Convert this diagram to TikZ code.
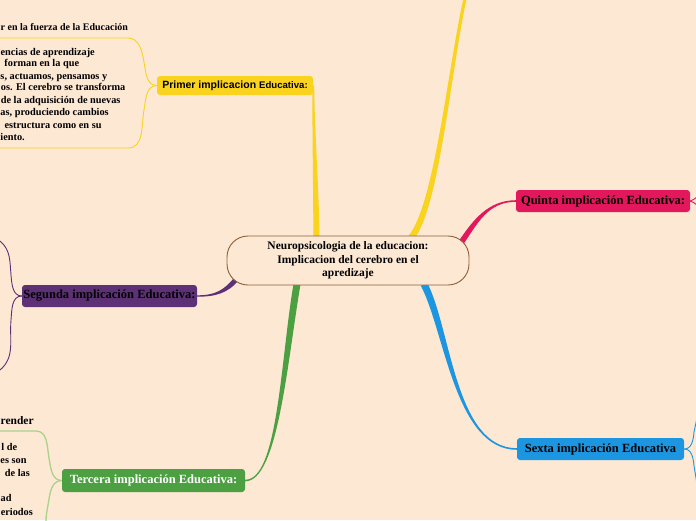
\documentclass[tikz,border=0pt]{standalone}
\usepackage{fontspec}
\setmainfont{Liberation Serif}
\newfontfamily\sansf{Liberation Sans}
\usetikzlibrary{calc}
\definecolor{bg}{RGB}{253,232,211}
\definecolor{cyel}{RGB}{249,211,29}
\definecolor{cpink}{RGB}{227,24,92}
\definecolor{cpurp}{RGB}{94,49,119}
\definecolor{cgreen}{RGB}{76,160,66}
\definecolor{clgreen}{RGB}{170,210,140}
\definecolor{cblue}{RGB}{28,150,225}
\definecolor{cbrown}{RGB}{140,95,55}
% tapered branch: colour, P0, C1, C2, P3, half width at P0, half width at P3
\newcommand\taperbranch[7]{%
  \path #2 coordinate (tpA) #3 coordinate (tpB) #4 coordinate (tpC) #5 coordinate (tpD);
  \path ($(tpA)!#6!90:(tpB)$) coordinate (tpA1) ($(tpA)!#6!-90:(tpB)$) coordinate (tpA2)
        ($(tpD)!#7!-90:(tpC)$) coordinate (tpD1) ($(tpD)!#7!90:(tpC)$) coordinate (tpD2);
  \fill[#1] (tpA1) .. controls ($(tpB)+(tpA1)-(tpA)$) and ($(tpC)+(tpD1)-(tpD)$) .. (tpD1)
     -- (tpD2) .. controls ($(tpC)+(tpD2)-(tpD)$) and ($(tpB)+(tpA2)-(tpA)$) .. (tpA2) -- cycle;
}
\tikzset{
  box/.style={rounded corners=3pt, inner sep=0pt, font=\fontsize{12.5}{14}\selectfont\bfseries, text=black},
  ptext/.style={font=\fontsize{10.3}{12}\selectfont\bfseries, inner sep=0pt, anchor=base east, text=black},
  ptextw/.style={ptext, anchor=base west},
  fork/.style={line width=0.9pt},
}
\begin{document}
\begin{tikzpicture}[x=1pt,y=-1pt]
\fill[bg] (0,0) rectangle (696,520);
\useasboundingbox (0,0) rectangle (696,520);

% central node placeholder for anchors
\path (348,260.5) node[minimum width=242pt, minimum height=49pt, inner sep=0pt] (c0) {};

\coordinate (cPrim) at ($(c0.north)+(-31.5,2)$);
\coordinate (cCuar) at ($(c0.north)+(63,2)$);
\coordinate (cQuin) at ($(c0.north)+(113,7)$);
\coordinate (cSext) at ($(c0.south)+(76,-1)$);
\coordinate (cTerc) at ($(c0.south)+(-51,-1)$);
\coordinate (cSeg)  at ($(c0.south)+(-111,-7)$);
\coordinate (cuartaEnd) at (467,-10);

\path (235,85.5) node[minimum width=156pt, minimum height=19pt] (p) {};
\path (109.5,296) node[minimum width=175pt, minimum height=22pt] (s) {};
\path (153.5,480.5) node[minimum width=183pt, minimum height=23pt] (t) {};
\path (603,201) node[minimum width=174pt, minimum height=22pt] (q) {};
\path (600.5,449) node[minimum width=167pt, minimum height=22pt] (x) {};

% main tapered branches
\taperbranch{cyel}{(cPrim)}{(316,190)}{(313.5,130)}{(p.east)}{3pt}{1pt}
\taperbranch{cyel}{(cCuar)}{(438,205)}{(450,60)}{(cuartaEnd)}{3.2pt}{1.6pt}
\taperbranch{cpink}{(cQuin)}{(475,222)}{(488,201)}{(q.west)}{2.8pt}{0.8pt}
\taperbranch{cblue}{(cSext)}{(448,330)}{(455,449)}{(x.west)}{3.5pt}{0.8pt}
\taperbranch{cgreen}{(cTerc)}{(284,360)}{(278,481)}{(t.east)}{3.5pt}{0.8pt}
\taperbranch{cpurp}{(cSeg)}{(226,292)}{(215,296)}{(s.east)}{2.5pt}{0.7pt}

% forks
\draw[fork, cyel] (p.west) to[out=180,in=-80] (144,62) to[out=100,in=0] (128,38) -- (0,38);
\draw[fork, cyel] (p.west) to[out=180,in=80] (144,110) to[out=-100,in=0] (128,148) -- (0,148);
\draw[fork, cpurp] (s.west) to[out=180,in=-85] (11,275) to[out=95,in=-40] (0,241);
\draw[fork, cpurp] (s.west) to[out=180,in=85] (11,320) to[out=-95,in=40] (0,370);
\draw[line width=1.3pt, clgreen] (t.west) to[out=180,in=-80] (49,458) to[out=100,in=0] (36,431) -- (0,431);
\draw[line width=1.3pt, clgreen] (t.west) to[out=180,in=80] (48,505) to[out=-100,in=90] (46,522);
\draw[fork, cpink] (q.east) to[out=0,in=200] (697,197);
\draw[fork, cpink] (q.east) to[out=0,in=160] (697,205);
\draw[fork, cblue] (x.east) to[out=0,in=-95] (694,432) -- (697,418);
\draw[fork, cblue] (x.east) to[out=0,in=95] (694,466) -- (697,484);

% central node
\node[draw=cbrown, line width=0.9pt, fill=bg, rounded corners=21pt, minimum width=242pt,
      minimum height=49pt, inner sep=0pt, align=center,
      font=\fontsize{11.5}{13.3}\selectfont\bfseries] (c) at (348,260.5)
      {Neuropsicologia de la educacion:\\Implicacion del cerebro en el\\apredizaje};

% boxes
\node[box, fill=cyel, minimum width=156pt, minimum height=19pt,
      font=\sansf\bfseries\fontsize{10.5}{12}\selectfont] (p1) at (p)
      {Primer implicacion {\fontsize{9.6}{11}\selectfont Educativa:}};
\node[box, fill=cpurp, minimum width=175pt, minimum height=22pt] (s1) at (s) {Segunda implicación Educativa:};
\node[box, fill=cgreen, minimum width=183pt, minimum height=23pt, text=white] (t1) at (t) {Tercera implicación Educativa:};
\node[box, fill=cpink, minimum width=174pt, minimum height=22pt] (q1) at (q) {Quinta implicación Educativa:};
\node[box, fill=cblue, minimum width=167pt, minimum height=22pt] (x1) at (x) {Sexta implicación Educativa};

% left texts of Primer
\node[ptextw, font=\fontsize{10}{12}\selectfont\bfseries] (l0) at (0.5,30.6) {r en la fuerza de la Educación};
\node[ptext] (l1) at (95,55.6) {encias de aprendizaje};
\node[ptext] (l2) at (79.3,66.8) {forman en la que};
\node[ptextw] (l3) at (0.3,79) {s, actuamos, pensamos y};
\node[ptext] (l4) at (125.5,90.8) {os. El cerebro se transforma};
\node[ptext] (l5) at (120.7,103.3) {de la adquisición de nuevas};
\node[ptextw] (l6) at (0.3,115.6) {as, produciendo cambios};
\node[ptext] (l7) at (101.7,128.2) {estructura como en su};
\node[ptextw] (l8) at (0.3,140.6) {iento.};

% left texts of Tercera
\node[ptextw, font=\fontsize{11.5}{14}\selectfont\bfseries] (a0) at (0.5,424.5) {render};
\node[ptext] (a1) at (17.3,450) {l de};
\node[ptextw] (a2) at (0.3,463.3) {es son};
\node[ptext] (a3) at (30,476) {de las};
\node[ptext] (a4) at (11.7,501.6) {ad};
\node[ptext] (a5) at (33,515) {eriodos};
\end{tikzpicture}
\end{document}
